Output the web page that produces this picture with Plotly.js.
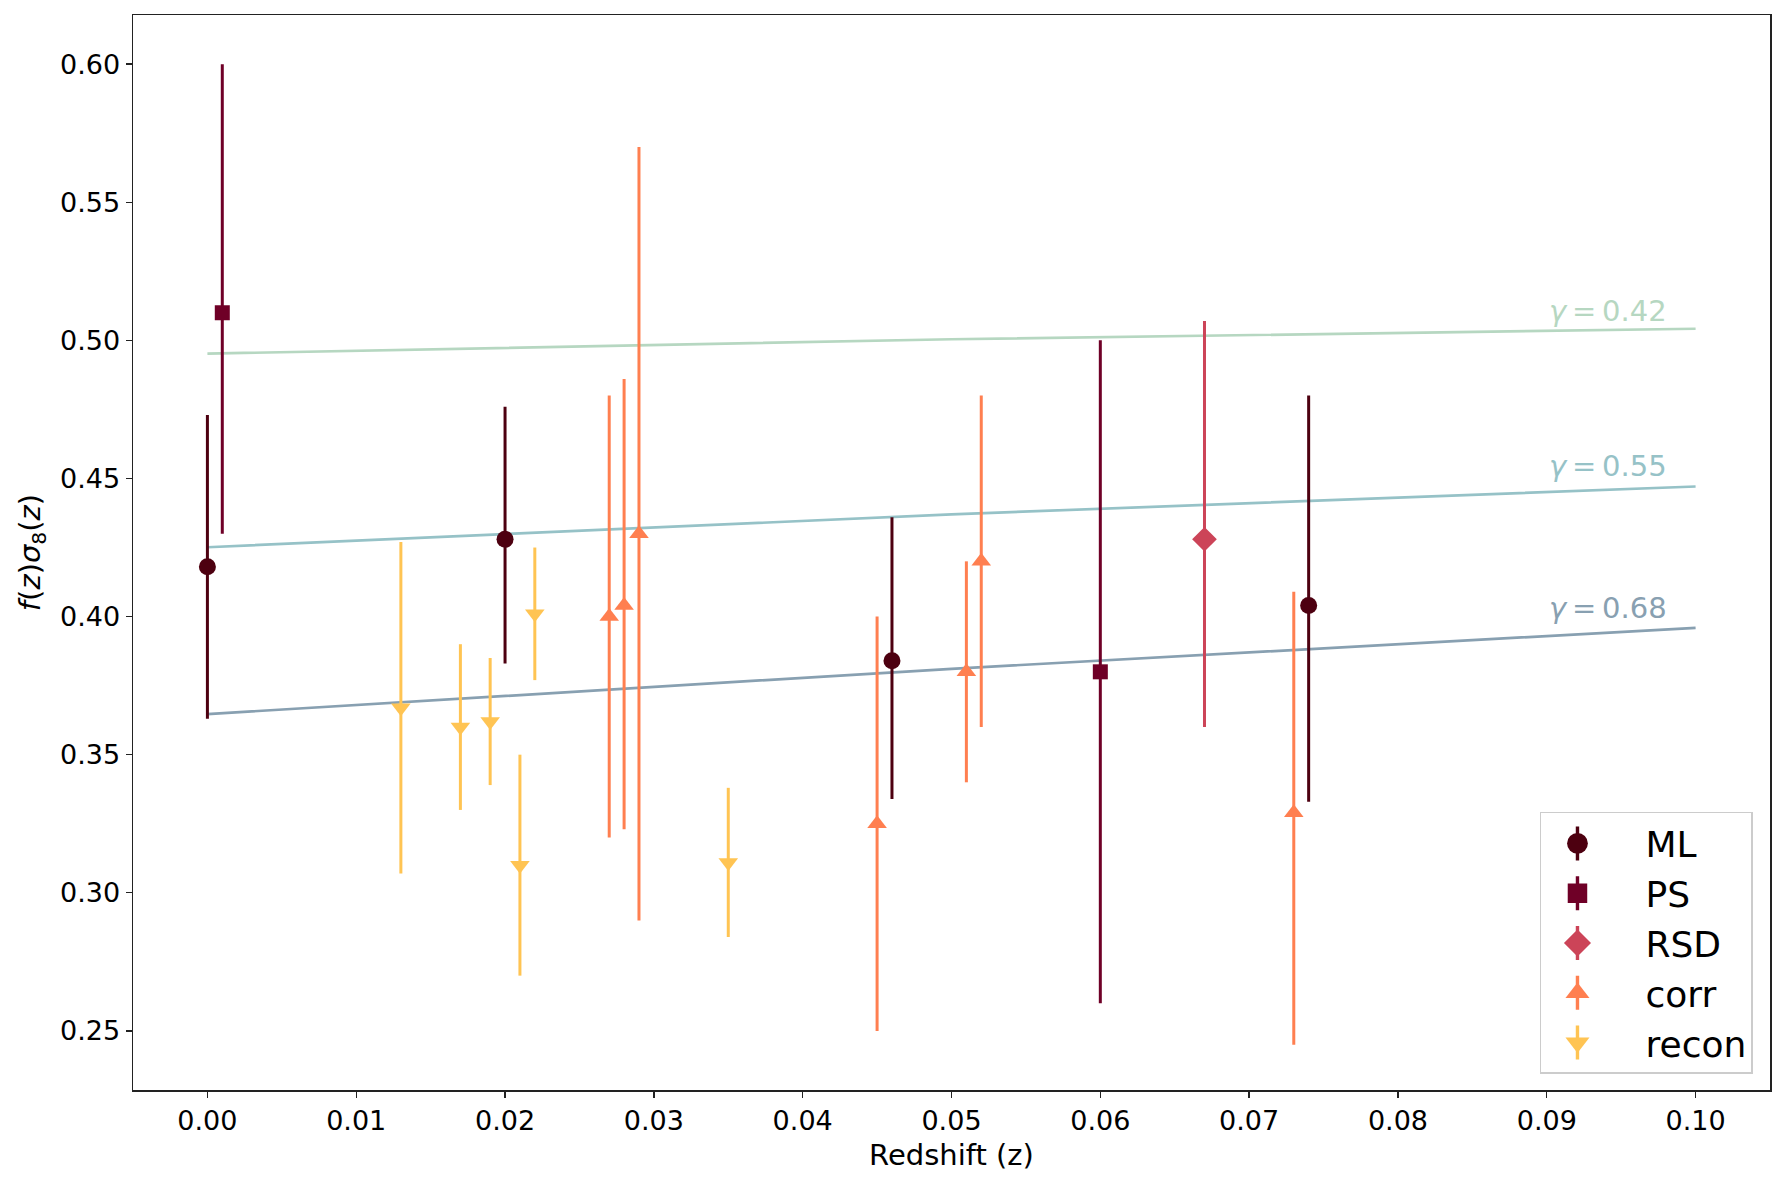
<!DOCTYPE html>
<html>
<head>
<meta charset="utf-8">
<script src="https://cdn.plot.ly/plotly-3.0.1.min.js"></script>
<style>
  html, body { margin: 0; padding: 0; background: #fff; }
  #chart { width: 1785px; height: 1185px; }
</style>
</head>
<body>
<div id="chart"></div>
<script>
var mlZ = [0.000, 0.020, 0.046, 0.074];
var mlF = [0.418, 0.428, 0.384, 0.404];
var mlUp = [0.055, 0.048, 0.052, 0.076];
var mlLo = [0.055, 0.045, 0.050, 0.071];

var psZ = [0.001, 0.060];
var psF = [0.510, 0.380];
var psUp = [0.090, 0.120];
var psLo = [0.080, 0.120];

var rsdZ = [0.067];
var rsdF = [0.428];
var rsdUp = [0.079];
var rsdLo = [0.068];

var corrZ = [0.027, 0.028, 0.029, 0.045, 0.051, 0.052, 0.073];
var corrF = [0.400, 0.404, 0.430, 0.325, 0.380, 0.420, 0.329];
var corrUp = [0.080, 0.082, 0.140, 0.075, 0.040, 0.060, 0.080];
var corrLo = [0.080, 0.081, 0.140, 0.075, 0.040, 0.060, 0.084];

var reconZ = [0.013, 0.017, 0.019, 0.021, 0.022, 0.035];
var reconF = [0.367, 0.360, 0.362, 0.310, 0.401, 0.311];
var reconUp = [0.060, 0.030, 0.023, 0.040, 0.024, 0.027];
var reconLo = [0.060, 0.030, 0.023, 0.040, 0.024, 0.027];

// model curves for three growth indices
var modelZ = [0.00, 0.05, 0.10];
var gamma042 = [0.4952, 0.5004, 0.5042];
var gamma055 = [0.4251, 0.4370, 0.4471];
var gamma068 = [0.3647, 0.3811, 0.3959];
var gammaNames = ['0.42', '0.55', '0.68'];
var gammaLabelY = [0.5037, 0.4476, 0.3961];

var lineColors = ['#b6d7c1', '#96c2c7', '#88a0b1'];

function modelLine(y, color) {
	return {
		x: modelZ, y: y, mode: 'lines', type: 'scatter',
		line: {color: color, width: 2.7},
		showlegend: false, hoverinfo: 'skip'
	};
}

function points(name, x, y, up, lo, color, symbol, size) {
	return {
		name: name, x: x, y: y, mode: 'markers', type: 'scatter',
		marker: {color: color, symbol: symbol, size: size},
		error_y: {
			type: 'data', symmetric: false, array: up, arrayminus: lo,
			color: color, thickness: 3, width: 0
		}
	};
}

var traces = [
	modelLine(gamma042, lineColors[0]),
	modelLine(gamma055, lineColors[1]),
	modelLine(gamma068, lineColors[2]),
	points('ML', mlZ, mlF, mlUp, mlLo, '#4d0010', 'circle', 17),
	points('PS', psZ, psF, psUp, psLo, '#6f0027', 'square', 15),
	points('RSD', rsdZ, rsdF, rsdUp, rsdLo, '#cc4458', 'diamond', 19),
	points('corr', corrZ, corrF, corrUp, corrLo, '#ff7f50', 'triangle-up', 17),
	points('recon', reconZ, reconF, reconUp, reconLo, '#ffc453', 'triangle-down', 17)
];

var annotations = gammaNames.map(function (g, i) {
	return {
		x: 0.09, y: gammaLabelY[i], xref: 'x', yref: 'y',
		xanchor: 'left', yanchor: 'bottom', showarrow: false,
		text: '<i>γ</i>\u2009=\u20090' + g.slice(1),
		font: {size: 29, color: lineColors[i]}
	};
});

var axisCommon = {
	showline: true, mirror: true, linecolor: '#222', linewidth: 1.5,
	ticks: 'outside', ticklen: 6, tickwidth: 1.4, tickcolor: '#222',
	showgrid: false, zeroline: false,
	tickfont: {size: 27, color: '#000'},
	tickformat: '.2f'
};

var layout = {
	width: 1785, height: 1185,
	margin: {l: 133, r: 15, t: 15, b: 95},
	paper_bgcolor: '#fff', plot_bgcolor: '#fff',
	font: {family: 'DejaVu Sans', color: '#000'},
	xaxis: Object.assign({}, axisCommon, {
		range: [-0.005, 0.105], tick0: 0, dtick: 0.01,
		title: {text: 'Redshift (z)', font: {size: 29}, standoff: 10}
	}),
	yaxis: Object.assign({}, axisCommon, {
		range: [0.2286, 0.6178], tick0: 0, dtick: 0.05,
		title: {text: '<i>f</i>(<i>z</i>)<i>σ</i><sub>8</sub>(<i>z</i>)', font: {size: 29}, standoff: 11}
	}),
	legend: {
		x: 0.9896, xanchor: 'right', y: 0.0149, yanchor: 'bottom',
		bgcolor: 'rgba(255,255,255,0.8)', bordercolor: '#cccccc', borderwidth: 1.5,
		font: {size: 36}, itemwidth: 94, tracegroupgap: 0
	},
	annotations: annotations,
	showlegend: true
};

// legend keys: bigger markers with a vertical error stroke behind them
function dressLegend(gd) {
	var NS = 'http://www.w3.org/2000/svg';
	var pts = gd.querySelectorAll('.legend .legendpoints path.scatterpts');
	pts.forEach(function (pt) {
		var tr = pt.getAttribute('transform') || '';
		var m = tr.match(/translate\(([-\d.]+)[ ,]+([-\d.]+)\)/);
		var cx = (m ? parseFloat(m[1]) : 0) - 16;
		var cy = m ? parseFloat(m[2]) : 0;
		pt.setAttribute('transform', 'translate(' + cx + ',' + cy + ') scale(1.3)');
		var bar = document.createElementNS(NS, 'path');
		bar.setAttribute('d', 'M' + cx + ',' + (cy - 17) + 'V' + (cy + 17));
		bar.setAttribute('stroke', pt.style.fill);
		bar.setAttribute('stroke-width', '3.4');
		pt.parentNode.insertBefore(bar, pt);
	});
}

Plotly.newPlot('chart', traces, layout, {staticPlot: true}).then(dressLegend);
</script>
</body>
</html>
